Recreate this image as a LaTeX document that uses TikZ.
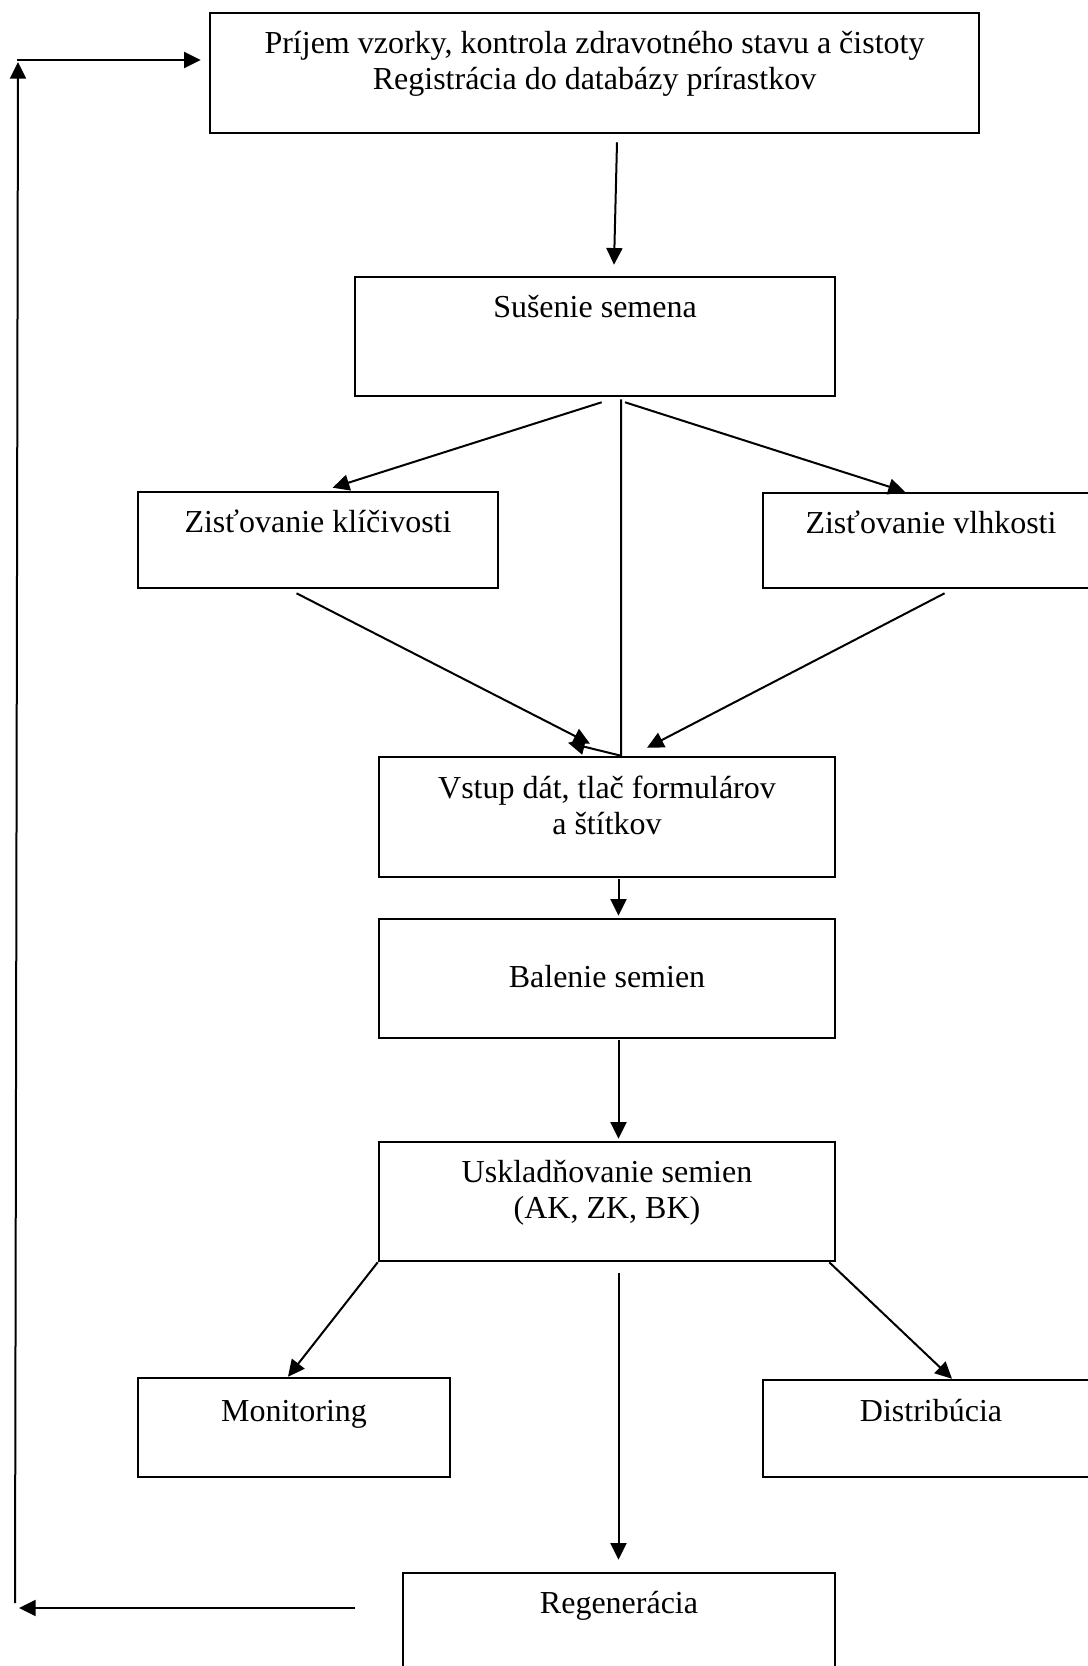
\documentclass[tikz,border=0pt]{standalone}
\usepackage{fontspec}
\setmainfont{Liberation Serif}
\usetikzlibrary{arrows.meta,calc}
\begin{document}
\begin{tikzpicture}[x=0.75pt,y=-0.75pt,
  box/.style={draw, line width=1.9pt, inner sep=0pt, rectangle},
  lbl/.style={font=\fontsize{24}{27}\selectfont, align=center, inner sep=0pt, anchor=base},
  conn/.style={line width=1.5pt, -{Triangle[length=12.5pt,width=12pt]}}]
\useasboundingbox (0,0) rectangle (1088,1666);
\fill[white] (0,0) rectangle (1088,1666);

% boxes
\node[box, minimum width=576.75pt, minimum height=90pt] (b1) at (594.5,73) {};
\node[box, minimum width=360pt, minimum height=89.25pt] (b2) at (595,336.5) {};
\node[box, minimum width=270pt, minimum height=72pt] (b3) at (318,540) {};
\node[box, minimum width=252pt, minimum height=71.25pt] (b4) at (931,540.5) {};
\node[box, minimum width=342pt, minimum height=90pt] (b5) at (607,817) {};
\node[box, minimum width=342pt, minimum height=89.25pt] (b6) at (607,978.5) {};
\node[box, minimum width=342pt, minimum height=89.25pt] (b7) at (607,1201.5) {};
\node[box, minimum width=234pt, minimum height=74.25pt] (b8) at (294,1427.5) {};
\node[box, minimum width=252pt, minimum height=72.75pt] (b9) at (931,1428.5) {};
\node[box, minimum width=324pt, minimum height=90pt] (b10) at (619,1633) {};

% texts (anchor base = baseline of the last line)
\node[lbl] (t1) at (594.5,90) {Príjem vzorky, kontrola zdravotného stavu a čistoty\\Registrácia do databázy prírastkov};
\node[lbl] (t2) at (595,317) {Sušenie semena};
\node[lbl] (t3) at (318,532) {Zisťovanie klíčivosti};
\node[lbl] (t4) at (931,533) {Zisťovanie vlhkosti};
\node[lbl] (t5) at (607,834) {Vstup dát, tlač formulárov\\a štítkov};
\node[lbl] (t6) at (607,987) {Balenie semien};
\node[lbl] (t7) at (607,1218) {Uskladňovanie semien\\(AK, ZK, BK)};
\node[lbl] (t8) at (294,1421) {Monitoring};
\node[lbl] (t9) at (931,1421) {Distribúcia};
\node[lbl] (t10) at (619,1613) {Regenerácia};

% connectors
\draw[conn] ($(b1.south)+(22.5,8)$) -- ($(b2.north)+(19,-11)$);
\draw[conn] ($(b2.south)+(6.7,5)$) -- ($(b3.north)+(14.6,-3)$);
\draw[conn] ($(b2.south)+(30,5)$) -- ($(b4.north)+(-26,0)$);
\draw[conn] ($(b2.south)+(26,2)$) -- ($(b5.north)+(14,0)$) -- ($(b5.north)+(-39,-13)$);
\draw[conn] ($(b3.south)+(-21.5,4)$) -- ($(b5.north)+(-17,-12)$);
\draw[conn] ($(b4.south)+(13.6,4)$) -- ($(b5.north)+(40,-8)$);
\draw[conn] ($(b5.south)+(11.5,1)$) -- ($(b6.north)+(11.5,-2)$);
\draw[conn] ($(b6.south)+(11.5,1)$) -- ($(b7.north)+(11.5,-2)$);
\draw[conn] (b7.south west) -- ($(b8.north)+(-6,0)$);
\draw[conn] ($(b7.south east)+(-7,0)$) -- ($(b9.north)+(21,0)$);
\draw[conn] ($(b7.south)+(11.5,11)$) -- ($(b10.north)+(-0.5,-12)$);

% feedback loop
\coordinate (r1) at (355,1608);
\coordinate (l3) at (19,1608);
\coordinate (l2) at (15,1603);
\coordinate (l1) at (18,62);
\coordinate (l0) at (17,60);
\draw[conn] (r1) -- (l3);
\draw[conn] (l2) -- (l1);
\draw[conn] (l0) -- ($(b1.west |- l0)+(-8,0)$);
\end{tikzpicture}
\end{document}
